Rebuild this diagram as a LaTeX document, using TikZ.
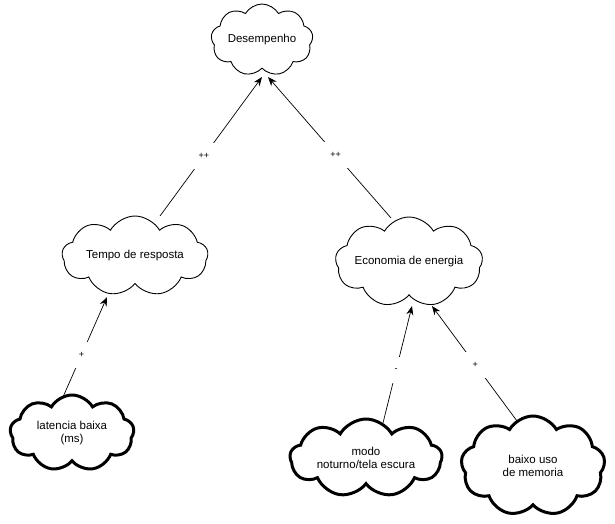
\documentclass[tikz,border=0pt]{standalone}
\usepackage{fontspec}
\setmainfont{Liberation Sans}
\usetikzlibrary{shapes.symbols,arrows.meta}
\begin{document}
\begin{tikzpicture}[x=1pt,y=-1pt,
  goal/.style={cloud, cloud puffs=9, cloud puff arc=120, cloud ignores aspect, draw=black, line width=0.9pt, fill=white, inner sep=0pt, align=center, font=\fontsize{11.5}{13.5}\selectfont},
  softgoal/.style={goal, line width=3pt},
  contrib/.style={draw=black, line width=0.7pt, -{Stealth[length=9pt,width=7pt]}},
  lbl/.style={fill=white, inner sep=0pt, minimum size=26pt, font=\fontsize{9}{10}\selectfont}]
\useasboundingbox (0,0) rectangle (615,523);
\node[goal, minimum width=102pt, minimum height=72pt] (des) at (262,40) {Desempenho};
\node[goal, minimum width=146pt, minimum height=80pt] (tem) at (135,256) {Tempo de resposta};
\node[goal, minimum width=134pt, minimum height=90pt] (eco) at (409,262) {Economia de energia};
\node[softgoal, minimum width=124pt, minimum height=76pt] (lat) at (72,433) {latencia baixa\\(ms)};
\node[softgoal, minimum width=152pt, minimum height=78pt] (mod) at (366,458) {modo\\noturno/tela escura};
\node[softgoal, minimum width=144pt, minimum height=100pt] (bai) at (533,466) {baixo uso\\de memoria};
\coordinate (d1) at (262,77);
\coordinate (d2) at (268,77);
\coordinate (e1) at (412,306);
\coordinate (e2) at (432,306);
\coordinate (t1) at (107,297);
\coordinate (s1) at (160,216);
\coordinate (s2) at (391,218);
\coordinate (s3) at (63,397);
\coordinate (s4) at (383,423);
\coordinate (s5) at (517,421);
\draw[contrib] (s1) -- node[lbl, pos=0.43] {++} (d1);
\draw[contrib] (s2) -- node[lbl, pos=0.45] {++} (d2);
\draw[contrib] (s3) -- node[lbl, pos=0.42] {+} (t1);
\draw[contrib] (s4) -- node[lbl, pos=0.45] {-} (e1);
\draw[contrib] (s5) -- node[lbl, pos=0.49] {+} (e2);
\end{tikzpicture}
\end{document}
